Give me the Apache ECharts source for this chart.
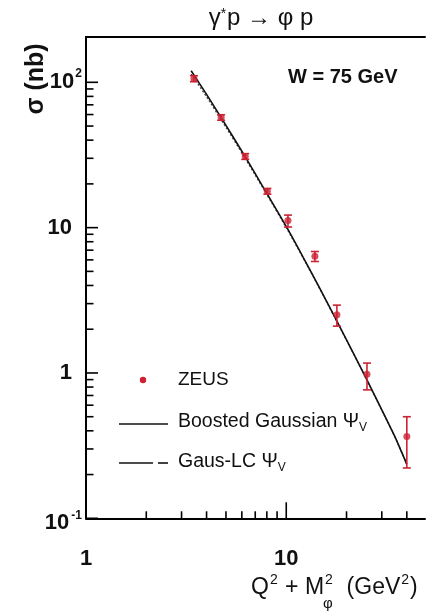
<!DOCTYPE html>
<html><head><meta charset="utf-8">
<script src="https://cdn.jsdelivr.net/npm/echarts@6/dist/echarts.min.js"></script>
<style>html,body{margin:0;padding:0;background:#fff}#c{width:428px;height:614px}</style>
</head><body><div id="c"></div>
<script>
// ---- data ----
const zeusQ2      = [3.46, 4.73, 6.24, 8.05, 10.2, 13.9, 17.9, 25.3, 40.0];
const zeusSigma   = [106, 57.3, 30.9, 17.8, 11.2, 6.35, 2.52, 0.98, 0.365];
const zeusErrLow  = [101, 54.8, 29.5, 17.0, 10.1, 5.85, 2.10, 0.765, 0.222];
const zeusErrHigh = [111, 59.8, 32.3, 18.6, 12.2, 6.85, 2.93, 1.17, 0.50];
const modelQ2      = [3.35, 4, 5, 6, 7, 8, 10, 12, 15, 20, 25, 30, 35, 40];
const boostedSigma = [120, 82.6, 50.6, 33.6, 23.5, 17.2, 10.2, 6.45, 3.63, 1.69, 0.924, 0.557, 0.360, 0.235];
const gausLCSigma  = [114, 79.5, 49.0, 32.7, 23.0, 16.9, 10.0, 6.38, 3.60, 1.68, 0.920, 0.555, 0.360, 0.235];
const xMajorTicks = [10];
const xMinorTicks = [2, 3, 4, 5, 6, 7, 8, 9, 20, 30, 40];
const yMajorTicks = [0.1, 1, 10, 100];
const yMinorTicks = [0.2, 0.3, 0.4, 0.5, 0.6, 0.7, 0.8, 0.9, 2, 3, 4, 5, 6, 7, 8, 9, 20, 30, 40, 50, 60, 70, 80, 90];
const X_MIN = 1, X_MAX = 49.3, Y_MIN = 0.1, Y_MAX = 205;

const FONT = '"Liberation Sans", Arial, sans-serif';
const RED = '#cc2233';
const INK = '#111';

const chart = echarts.init(document.getElementById('c'), null, {renderer: 'canvas'});

function tickSeries(values, axis, len) {
  return {
    type: 'custom', coordinateSystem: 'cartesian2d', silent: true, clip: false, z: 5,
    data: values.map(v => axis === 'x' ? [v, Y_MIN] : [X_MIN, v]),
    renderItem(params, api) {
      const p = api.coord([api.value(0), api.value(1)]);
      const shape = axis === 'x'
        ? {x1: p[0], y1: p[1], x2: p[0], y2: p[1] - len}
        : {x1: p[0], y1: p[1], x2: p[0] + len, y2: p[1]};
      return {type: 'line', shape, style: {stroke: '#000', lineWidth: 1.6}};
    }
  };
}

function isPow10(v) {
  const l = Math.log10(v);
  return Math.abs(l - Math.round(l)) < 1e-6;
}

const txt = (x, y, text, size, extra) => ({type: 'text', x, y, z: 10,
  style: Object.assign({text, fontSize: size, fontFamily: FONT, fill: INK, verticalAlign: 'middle'}, extra || {})});

const option = {
  animation: false,
  backgroundColor: '#fff',
  grid: {left: 86, top: 37, right: 0, bottom: 95.7, containLabel: false},
  xAxis: [{
    type: 'log', logBase: 10, min: X_MIN, max: X_MAX, position: 'bottom',
    axisLine: {show: true, lineStyle: {color: '#000', width: 2}},
    axisTick: {show: false}, splitLine: {show: false}, minorTick: {show: false},
    axisLabel: {
      margin: 30, color: INK, fontFamily: FONT, fontSize: 22, fontWeight: 'bold',
      formatter: v => isPow10(v) ? String(Math.round(v)) : ''
    }
  }, {
    type: 'log', logBase: 10, min: X_MIN, max: X_MAX, position: 'top',
    axisLine: {show: true, lineStyle: {color: '#000', width: 2}},
    axisTick: {show: false}, axisLabel: {show: false}, splitLine: {show: false}
  }],
  yAxis: {
    type: 'log', logBase: 10, min: Y_MIN, max: Y_MAX,
    axisLine: {show: true, lineStyle: {color: '#000', width: 2}},
    axisTick: {show: false}, splitLine: {show: false},
    axisLabel: {
      margin: 4, color: INK, fontFamily: FONT,
      formatter: v => {
        if (!isPow10(v)) return '';
        const e = Math.round(Math.log10(v));
        if (e === 2) return '{b|10}{s|2}';
        if (e === 1) return '{b|10}{g| }';
        if (e === 0) return '{b|1}{g| }';
        if (e === -1) return '{c|10}{t|-1}';
        return '';
      },
      rich: {
        b: {fontSize: 22, fontWeight: 'bold', fontFamily: FONT, color: INK},
        s: {fontSize: 12, fontWeight: 'bold', fontFamily: FONT, color: INK, padding: [0, 0, 18, 1]},
        g: {fontSize: 12, width: 10},
        c: {fontSize: 22, fontWeight: 'bold', fontFamily: FONT, color: INK, padding: [10, 0, 0, 0]},
        t: {fontSize: 12, fontWeight: 'bold', fontFamily: FONT, color: INK, padding: [0, 0, 6, 2]}
      }
    }
  },
  series: [
    tickSeries(xMajorTicks, 'x', 16),
    tickSeries(xMinorTicks, 'x', 7),
    tickSeries(yMajorTicks, 'y', 12),
    tickSeries(yMinorTicks, 'y', 7.5),
    {
      name: 'Gaus-LC', type: 'line', showSymbol: false, z: 3, smooth: 0.2,
      data: modelQ2.map((x, i) => [x, gausLCSigma[i]]),
      lineStyle: {color: '#444', width: 1.3, type: [2, 2]}
    },
    {
      name: 'Boosted Gaussian', type: 'line', showSymbol: false, z: 4, smooth: 0.2,
      data: modelQ2.map((x, i) => [x, boostedSigma[i]]),
      lineStyle: {color: INK, width: 1.6}
    },
    {
      name: 'ZEUS errors', type: 'custom', coordinateSystem: 'cartesian2d', z: 6, silent: true,
      data: zeusQ2.map((x, i) => [x, zeusErrLow[i], zeusErrHigh[i]]),
      renderItem(params, api) {
        const lo = api.coord([api.value(0), api.value(1)]);
        const hi = api.coord([api.value(0), api.value(2)]);
        const w = 4;
        const st = {stroke: RED, lineWidth: 1.6};
        return {type: 'group', children: [
          {type: 'line', shape: {x1: lo[0], y1: lo[1], x2: hi[0], y2: hi[1]}, style: st},
          {type: 'line', shape: {x1: lo[0] - w, y1: lo[1], x2: lo[0] + w, y2: lo[1]}, style: st},
          {type: 'line', shape: {x1: hi[0] - w, y1: hi[1], x2: hi[0] + w, y2: hi[1]}, style: st}
        ]};
      }
    },
    {
      name: 'ZEUS', type: 'scatter', z: 7, symbol: 'circle', symbolSize: 7,
      data: zeusQ2.map((x, i) => [x, zeusSigma[i]]),
      itemStyle: {color: RED}
    }
  ],
  graphic: [
    // title
    {type: 'text', x: 261, y: 18, z: 10,
      style: {text: '{n|γ}{s|*}{n|p → φ p}', fill: INK, align: 'center', verticalAlign: 'middle',
        rich: {n: {fontSize: 24, fontFamily: FONT, fill: INK}, s: {fontSize: 14, fontFamily: FONT, fill: INK, padding: [0, 1, 8, 0]}}}},
    // W = 75 GeV
    txt(288, 77, 'W = 75 GeV', 20, {fontWeight: 'bold'}),
    // y axis name
    {type: 'text', x: 36, y: 79, rotation: Math.PI / 2, z: 10,
      style: {text: 'σ (nb)', fontSize: 25, fontWeight: 'bold', fontFamily: FONT, fill: INK, align: 'center', verticalAlign: 'middle'}},
    // x axis name
    {type: 'text', x: 251, y: 588, z: 10,
      style: {text: '{n|Q}{s|2}{n| + M}{s|2}{n|  (GeV}{s|2}{n|)}', fill: INK, verticalAlign: 'middle',
        rich: {n: {fontSize: 23, fontFamily: FONT, fill: INK}, s: {fontSize: 14, fontFamily: FONT, fill: INK, padding: [0, 1, 16, 1]}}}},
    txt(323, 604, 'φ', 15),
    // legend
    {type: 'circle', shape: {cx: 143, cy: 380, r: 3.2}, style: {fill: RED}},
    txt(178, 380, 'ZEUS', 19),
    {type: 'line', shape: {x1: 119, y1: 424, x2: 168, y2: 424}, style: {stroke: INK, lineWidth: 1.6}},
    {type: 'text', x: 178, y: 422, z: 10, style: {text: '{n|Boosted Gaussian Ψ}{u|V}', fill: INK, verticalAlign: 'middle',
      rich: {n: {fontSize: 19.5, fontFamily: FONT, fill: INK}, u: {fontSize: 12, fontFamily: FONT, fill: INK, padding: [12, 0, 0, 0]}}}},
    {type: 'line', shape: {x1: 119, y1: 463, x2: 153, y2: 463}, style: {stroke: INK, lineWidth: 1.6}},
    {type: 'line', shape: {x1: 158, y1: 463, x2: 168, y2: 463}, style: {stroke: INK, lineWidth: 1.6}},
    {type: 'text', x: 178, y: 462, z: 10, style: {text: '{n|Gaus-LC Ψ}{u|V}', fill: INK, verticalAlign: 'middle',
      rich: {n: {fontSize: 19.5, fontFamily: FONT, fill: INK}, u: {fontSize: 12, fontFamily: FONT, fill: INK, padding: [12, 0, 0, 0]}}}}
  ]
};
chart.setOption(option);
</script></body></html>
